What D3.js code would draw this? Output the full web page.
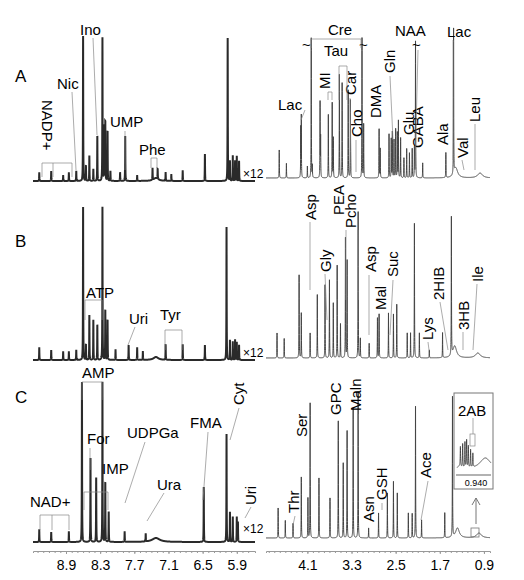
<!DOCTYPE html>
<html><head><meta charset="utf-8">
<script src="https://cdn.jsdelivr.net/npm/d3@7"></script>
<style>
body{margin:0;background:#fff;}
text{font-family:"Liberation Sans",Arial,sans-serif;}
</style></head>
<body><div class="visHolder"></div>
<script>
// peaks: [ppm, intensity, halfwidth(optional)]
let peaksA_left = [[9.37,8],[9.16,10],[8.95,5],[8.85,8],[8.72,10],[8.60,145],[8.55,15],[8.49,25],[8.42,12],[8.35,45],[8.26,143],[8.23,55],[8.21,60],[8.17,50],[8.12,10],[7.95,8],[7.86,45],[7.65,5],[7.38,12],[7.29,10],[7.15,8],[7.05,6],[6.85,10],[6.46,27],[6.06,143],[6.02,20],[5.97,25],[5.93,20],[5.90,25],[5.86,20],[7.32,3,0.05]];
let peaksA_right = [[4.61,28],[4.48,15],[4.22,50],[4.21,61],[4.10,12],[4.03,140],[4.01,12],[3.87,75],[3.86,40],[3.72,65],[3.65,75],[3.63,40],[3.52,106],[3.47,95],[3.36,90],[3.32,80],[3.11,140],[3.08,55],[2.80,50],[2.78,30],[2.62,45],[2.58,40],[2.56,47],[2.53,38],[2.50,50],[2.47,45],[2.45,57],[2.41,40],[2.35,20],[2.30,30],[2.25,25],[2.20,30],[2.16,30],[2.14,140],[2.01,15],[1.59,25],[1.45,145],[1.41,10,0.04],[0.97,5,0.05]];
let peaksB_left = [[9.37,12],[9.16,10],[8.95,8],[8.85,8],[8.72,10],[8.60,153],[8.55,15],[8.49,45],[8.42,40],[8.35,35],[8.26,153],[8.21,50],[8.17,40],[8.03,10],[7.80,15],[7.65,12],[7.55,8],[7.15,15],[6.85,15],[6.46,15],[6.08,133],[6.02,20],[5.97,18],[5.93,20],[5.90,18],[5.86,15],[7.32,3,0.05]];
let peaksB_right = [[4.65,25],[4.52,20],[4.25,83],[4.21,45],[4.05,25],[3.92,65],[3.78,75],[3.70,80],[3.63,55],[3.56,95],[3.50,35],[3.41,120],[3.38,100],[3.18,150],[3.14,20],[2.98,15],[2.83,40],[2.80,45],[2.63,45],[2.54,45],[2.48,55],[2.29,25],[2.23,25],[2.16,138],[2.07,25],[1.89,8],[1.65,25],[1.49,138],[1.43,12,0.04],[1.01,5,0.05]];
let peaksC_left = [[9.37,12],[9.16,10],[8.85,10],[8.62,160],[8.47,85],[8.37,65],[8.26,160],[8.21,60],[8.15,30],[7.87,10],[7.50,8],[7.32,4,0.08],[6.48,55],[6.08,108],[6.02,30],[5.97,25],[5.90,25],[5.88,20]];
let peaksC_right = [[4.63,30],[4.50,18],[4.36,15],[4.21,61],[4.09,40],[4.05,135],[3.89,60],[3.69,40],[3.54,120],[3.45,75],[3.38,110],[3.27,130],[3.18,150],[2.99,10],[2.81,25],[2.65,45],[2.54,58],[2.47,45],[2.27,25],[2.20,25],[2.14,135],[2.03,18],[1.61,25],[1.47,140],[1.38,10,0.04],[0.99,5,0.05]];
let peaksInset = [[0.949,20,0.0002],[0.947,24,0.0002],[0.945,26,0.0002],[0.9435,28,0.0002],[0.942,22,0.0002],[0.940,18,0.0002],[0.938,14,0.0002],[0.950,3,0.002],[0.927,12,0.006]];

let ticksLeft = [8.9, 8.3, 7.7, 7.1, 6.5, 5.9];
let ticksRight = [4.1, 3.3, 2.5, 1.7, 0.9];

let width = 524, height = 580;
let svg = d3.select('.visHolder').append('svg').attr('width', width).attr('height', height);

let xLeft = d3.scaleLinear().domain([9.48, 5.58]).range([33, 255]);
let xRight = d3.scaleLinear().domain([4.85, 0.79]).range([266, 490]);

function spectrum(peaks, lo, hi, step) {
  let pts = [];
  for (let p = hi; p >= lo; p -= step) {
    let v = 0;
    peaks.forEach(pk => {
      let w = pk[2] || 0.0025;
      let d = (p - pk[0]) / w;
      v += pk[1] / (1 + d * d);
    });
    pts.push([p, v]);
  }
  return pts;
}

function drawTrace(peaks, x, base, sw, col) {
  let y = d3.scaleLinear().domain([0, 160]).range([base, base - 160]);
  let dom = x.domain();
  let pts = spectrum(peaks, dom[1], dom[0], 0.0008);
  svg.append('path').datum(pts)
    .attr('d', d3.line().x(d => x(d[0])).y(d => y(d[1])))
    .attr('fill', 'none').attr('stroke', col).attr('stroke-width', sw);
}

drawTrace(peaksA_left, xLeft, 181, 2, '#2a2a2a');
drawTrace(peaksA_right, xRight, 178, 1, '#444');
drawTrace(peaksB_left, xLeft, 360, 2, '#2a2a2a');
drawTrace(peaksB_right, xRight, 358, 1, '#444');
drawTrace(peaksC_left, xLeft, 542, 2, '#2a2a2a');
drawTrace(peaksC_right, xRight, 538, 1, '#444');

// inset
let xIn = d3.scaleLinear().domain([0.952, 0.922]).range([457, 491]);
let yIn = d3.scaleLinear().domain([0, 30]).range([470, 440]);
svg.append('path').datum(spectrum(peaksInset, 0.922, 0.952, 0.00005))
  .attr('d', d3.line().x(d => xIn(d[0])).y(d => yIn(d[1])))
  .attr('fill', 'none').attr('stroke', '#333').attr('stroke-width', 0.8);
svg.append('rect').attr('x', 454).attr('y', 393).attr('width', 39).attr('height', 96)
  .attr('fill', 'none').attr('stroke', '#777');
svg.append('line').attr('x1', 456).attr('x2', 491).attr('y1', 475).attr('y2', 475).attr('stroke', '#999').attr('stroke-width', 1.5);
svg.append('text').attr('x', 476).attr('y', 486).attr('text-anchor', 'middle').attr('font-size', 9).text('0.940');
svg.append('rect').attr('x', 470).attr('y', 434).attr('width', 5).attr('height', 12).attr('fill', 'none').attr('stroke', '#888').attr('stroke-width', 0.7);
svg.append('line').attr('x1', 473).attr('x2', 473).attr('y1', 418).attr('y2', 434).attr('stroke', '#888').attr('stroke-width', 0.7);
svg.append('rect').attr('x', 471).attr('y', 528).attr('width', 8).attr('height', 9).attr('fill', 'none').attr('stroke', '#777').attr('stroke-width', 0.8);
svg.append('path').attr('d', 'M476,524 L476,498 M472,505 L476,498 L480,505').attr('fill', 'none').attr('stroke', '#777');

// axes
function makeAxis(x, ticks) {
  let dom = x.domain();
  let minor = d3.range(Math.round(dom[1] * 10) + 1, Math.round(dom[0] * 10)).map(d => d / 10);
  svg.append('g').attr('transform', 'translate(0,551)')
    .call(d3.axisBottom(x).tickValues(minor).tickSize(2).tickFormat(''))
    .call(g => g.selectAll('line,path').attr('stroke', '#999'));
  svg.append('g').attr('transform', 'translate(0,551)')
    .call(d3.axisBottom(x).tickValues(ticks).tickSize(3).tickFormat(d3.format('.1f')))
    .call(g => g.select('.domain').remove())
    .call(g => g.selectAll('line').attr('stroke', '#999'))
    .call(g => g.selectAll('text').attr('font-size', 14).attr('font-family', '"Liberation Sans",Arial').attr('dy', '0.9em'));
}
makeAxis(xLeft, ticksLeft);
makeAxis(xRight, ticksRight);

// labels: [text, x, y, rotation, size]
let labels = [
  ['A', 15, 82, 0, 17], ['B', 15, 247, 0, 17], ['C', 15, 403, 0, 17],
  ['Nic', 57, 89, 0], ['Ino', 80, 35, 0], ['UMP', 110, 127, 0], ['Phe', 139, 155, 0],
  ['NADP+', 42, 100, 90], ['×12', 243, 178, 0, 12], ['×12', 243, 357, 0, 12], ['×12', 243, 533, 0, 12],
  ['Lac', 278, 110, 0], ['Cre', 328, 35, 0], ['Tau', 324, 56, 0], ['NAA', 395, 36, 0], ['Lac', 447, 37, 0],
  ['~', 302, 50, 0], ['~', 359, 50, 0], ['~', 412, 50, 0],
  ['MI', 330, 89, -90], ['Car', 356, 95, -90], ['Cho', 362, 137, -90], ['DMA', 381, 118, -90], ['Gln', 395, 73, -90],
  ['Glu', 414, 135, -90], ['GABA', 423, 148, -90], ['Ala', 448, 145, -90], ['Val', 468, 158, -90], ['Leu', 480, 122, -90],
  ['ATP', 86, 298, 0], ['Uri', 129, 324, 0], ['Tyr', 160, 320, 0],
  ['Asp', 316, 220, -90], ['Gly', 331, 272, -90], ['PEA', 344, 215, -90], ['Pcho', 356, 228, -90], ['Asp', 376, 272, -90],
  ['Suc', 398, 277, -90], ['Mal', 386, 310, -90], ['Lys', 433, 340, -90], ['2HIB', 444, 300, -90], ['3HB', 469, 330, -90], ['Ile', 483, 282, -90],
  ['AMP', 82, 378, 0], ['For', 87, 444, 0], ['IMP', 102, 474, 0], ['UDPGa', 127, 438, 0], ['FMA', 190, 428, 0], ['Ura', 157, 490, 0], ['NAD+', 30, 507, 0],
  ['Cyt', 244, 405, -90], ['Uri', 256, 505, -90],
  ['Thr', 299, 513, -90], ['Ser', 307, 437, -90], ['GPC', 341, 415, -90], ['Maln', 361, 411, -90], ['Asn', 374, 522, -90], ['GSH', 387, 500, -90], ['Ace', 431, 478, -90],
  ['2AB', 458, 416, 0]
];
svg.selectAll('text.lab').data(labels).enter().append('text').attr('class', 'lab')
  .attr('transform', d => 'translate(' + d[1] + ',' + d[2] + ') rotate(' + d[3] + ')')
  .attr('font-size', d => d[4] || 15).text(d => d[0]);

// leader lines and brackets
let leaders = [
  'M72,92 L76,170', 'M93,38 L97,135', 'M125,131 L125,170', 'M151,168 L151,158 L157,158 L157,168',
  'M42,177 L42,163 L72,163 L72,177 M53,163 L53,177',
  'M305,110 L301,120', 'M311,48 L311,39 L361,39 L361,48', 'M339,100 L339,66 L347,66 L347,100', 'M328,100 L328,92 L332,92 L332,100',
  'M418,50 L415,170', 'M453,40 L453,160', 'M462,160 L464,170', 'M475,124 L475,170', 'M390,76 L393,140', 'M350,98 L351,170', 'M356,140 L356,172',
  'M85,320 L85,300 L102,300 L102,320', 'M135,327 L128,345', 'M165,350 L165,330 L182,330 L182,350',
  'M310,222 L310,290', 'M325,274 L327,320', 'M346,230 L346,300', 'M358,230 L358,300', 'M369,275 L369,335',
  'M393,280 L390,335', 'M428,342 L429,350', 'M440,302 L448,350', 'M463,332 L463,350', 'M477,284 L473,350',
  'M82,400 L82,382 L102,382 L102,400', 'M90,448 L90,470', 'M84,510 L84,492 L108,492 L108,510',
  'M145,442 L125,503', 'M208,432 L203,500', 'M164,493 L147,521', 'M40,530 L40,515 L69,515 L69,530 M52,515 L52,530',
  'M239,408 L230,440', 'M251,507 L245,518', 'M295,516 L293,525', 'M310,440 L310,480', 'M358,414 L358,430', 'M428,481 L421,520', 'M382,503 L382,510'
];
svg.selectAll('path.lead').data(leaders).enter().append('path').attr('class', 'lead')
  .attr('d', d => d).attr('fill', 'none').attr('stroke', '#888').attr('stroke-width', 0.7);
</script></body></html>
